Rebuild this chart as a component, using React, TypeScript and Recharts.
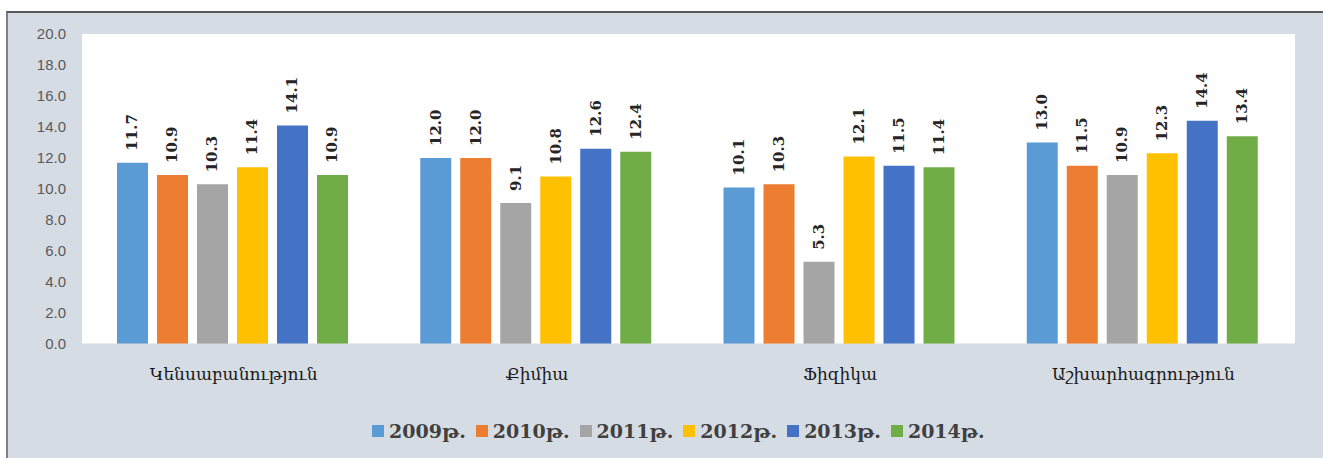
import React from "react";
import { BarChart, Bar, XAxis, YAxis, CartesianGrid, LabelList } from "recharts";

const categories = ["Կենսաբանություն", "Քիմիա", "Ֆիզիկա", "Աշխարհագրություն"];
const years = ["2009թ.", "2010թ.", "2011թ.", "2012թ.", "2013թ.", "2014թ."];
const v2009 = [11.7, 12.0, 10.1, 13.0];
const v2010 = [10.9, 12.0, 10.3, 11.5];
const v2011 = [10.3, 9.1, 5.3, 10.9];
const v2012 = [11.4, 10.8, 12.1, 12.3];
const v2013 = [14.1, 12.6, 11.5, 14.4];
const v2014 = [10.9, 12.4, 11.4, 13.4];
const yTicks = [0, 2, 4, 6, 8, 10, 12, 14, 16, 18, 20];

const seriesValues = [v2009, v2010, v2011, v2012, v2013, v2014];
const COLORS = ["#5b9bd5", "#ed7d31", "#a5a5a5", "#ffc000", "#4472c4", "#70ad47"];

const data = categories.map((name, i) => {
  const row: Record<string, string | number> = { name };
  years.forEach((y, s) => {
    row[y] = seriesValues[s][i];
  });
  return row;
});

const renderValue = (props: any) => {
  const { x, y, width, value } = props;
  const cx = Number(x) + Number(width) / 2;
  const cy = Number(y) - 12;
  return (
    <text
      x={cx}
      y={cy}
      transform={`rotate(-90, ${cx}, ${cy})`}
      textAnchor="start"
      dominantBaseline="central"
      fontFamily="DejaVu Serif"
      fontWeight="bold"
      fontSize={15}
      fill="#262626"
    >
      {Number(value).toFixed(1)}
    </text>
  );
};

export default function App() {
  return (
    <div style={{ position: "fixed", left: 0, top: 0, width: 1323, height: 458, background: "#fff", overflow: "hidden" }}>
      <div
        style={{
          position: "absolute",
          left: 6,
          top: 11,
          width: 1340,
          height: 460,
          background: "#d6dce4",
          borderTop: "2px solid #595959",
          borderLeft: "2px solid #7f7f7f",
        }}
      />
      <div style={{ position: "absolute", left: 0, top: 0 }}>
        <BarChart
          width={1323}
          height={458}
          data={data}
          margin={{ top: 34, right: 28, bottom: 54, left: 0 }}
          barCategoryGap={35}
          barGap={9}
        >
          <CartesianGrid horizontal={false} vertical={false} fill="#ffffff" stroke="none" />
          <XAxis
            dataKey="name"
            height={60}
            tickLine={false}
            axisLine={{ stroke: "#d9d9d9" }}
            tickMargin={18}
            tick={{ fontFamily: "DejaVu Serif", fontSize: 17, fill: "#1a1a1a" }}
          />
          <YAxis
            width={82}
            domain={[0, 20]}
            ticks={yTicks}
            tickLine={false}
            axisLine={false}
            tickMargin={10}
            tickFormatter={(v: number) => v.toFixed(1)}
            tick={{ fontFamily: "Liberation Sans", fontSize: 15, fill: "#595959" }}
          />
          {years.map((y, s) => (
            <Bar key={y} dataKey={y} fill={COLORS[s]} isAnimationActive={false}>
              <LabelList dataKey={y} content={renderValue} />
            </Bar>
          ))}
        </BarChart>
      </div>
      <div
        style={{
          position: "absolute",
          left: 372,
          top: 420,
          display: "flex",
          alignItems: "center",
          fontFamily: "DejaVu Serif",
          fontWeight: "bold",
          fontSize: 19,
          color: "#404040",
        }}
      >
        {years.map((y, s) => (
          <div key={y} style={{ display: "flex", alignItems: "center", marginRight: 10 }}>
            <span style={{ width: 12, height: 12, background: COLORS[s], marginRight: 5, display: "inline-block" }} />
            <span>{y}</span>
          </div>
        ))}
      </div>
    </div>
  );
}
